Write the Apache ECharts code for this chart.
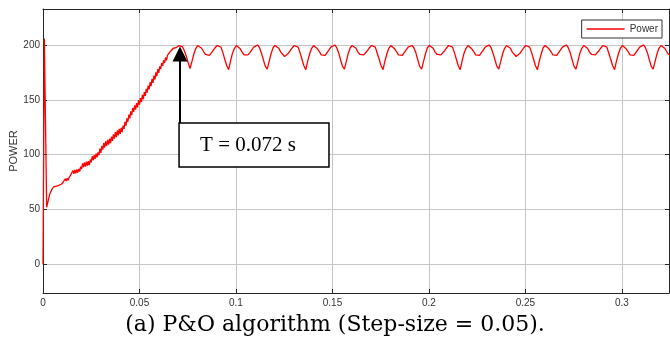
<!DOCTYPE html>
<html>
<head>
<meta charset="utf-8">
<script src="https://cdn.jsdelivr.net/npm/echarts@6/dist/echarts.min.js"></script>
<style>
  html, body { margin: 0; padding: 0; background: #fff; }
  #chart { width: 670px; height: 343px; }
</style>
</head>
<body>
<div id="chart"></div>
<script>
// Start-up transient: spike at switch-on, then the dip
const startTime  = [0, 0.0007, 0.0019, 0.0027, 0.0035, 0.0045, 0.0055, 0.0065, 0.0075, 0.0085];
const startPower = [0, 206, 52, 58, 64, 68, 70.5, 71, 71.5, 71.5];

// Tracking ramp, sampled every 0.5 ms from 9.5 ms (ripple included)
const rampT0 = 0.0095;
const rampDt = 0.0005;
const rampPower = [
  73, 71.5, 75, 75.5, 78, 76, 78.5, 76.5, 79, 78, 82, 82,
  85.5, 82.5, 86, 83, 86.5, 83.5, 87, 84.5, 89, 87,
  92, 88.5, 93, 89, 93.5, 90, 94, 90.5, 95.5, 93, 98.5, 95, 99.5, 96, 101, 97.5, 102, 99.5,
  105.5, 101.5, 108, 104.5, 110.5, 106.5, 112, 108, 113.5, 109, 114.5, 110.5, 116.5, 112.5,
  118.5, 114.5, 120.5, 116, 122, 117.5, 123.5, 119, 124.5, 120.5, 126.5, 123.5, 130, 126.5,
  133, 130, 136.5, 133, 139.5, 136, 142.5, 139, 145, 141, 147, 143, 149.5, 145.5, 151.5, 148,
  154.5, 150.5, 157, 153.5, 160, 156.5, 163, 159.5, 166, 162.5, 169, 165.5, 172, 168.5,
  175, 171.5, 178, 174.5, 180.5, 178, 183.5, 181, 186, 183.5, 188.5, 186, 190.5, 189,
  193, 191.5, 195, 194, 197, 195.5, 197.5, 197.5, 199, 199, 199.5
];

// Steady-state oscillation around the MPP, sampled every 1 ms from 71.2 ms
const steadyT0 = 0.0712;
const steadyDt = 0.001;
const steadyPower = [
  200, 198.5, 195, 190, 184, 178.5,
  185, 192, 197, 199.5, 199.5, 197, 194, 191.5, 190, 190.5, 192.5, 195, 197.5, 199.5, 200, 198, 193, 187, 181, 177.5,
  185.5, 192.5, 197, 199.5, 199, 196.5, 193.5, 191, 190.5, 191, 193, 195.5, 198, 199.5, 200, 197.5, 192.5, 186.5, 180.5, 178,
  185, 192, 197.5, 199.5, 199.5, 197, 193.5, 191.5, 189.5, 191, 192.5, 195, 197.5, 199.5, 199.5, 198, 193, 187, 181, 177.5,
  185.5, 192, 197, 199.5, 199, 196.5, 194, 191, 190, 190.5, 193, 195.5, 198, 199.5, 200, 197.5, 193, 186.5, 180.5, 178,
  185, 192.5, 197.5, 199.5, 199.5, 197, 193.5, 191.5, 190, 191, 192.5, 195, 197.5, 199.5, 200, 198, 192.5, 187, 181, 177.5,
  185.5, 192, 197, 199.5, 199, 196.5, 194, 191, 189.5, 190.5, 193, 195.5, 198, 199.5, 199.5, 197.5, 193, 186.5, 180.5, 178,
  185, 192, 197.5, 199.5, 199.5, 197, 193.5, 191.5, 190, 191, 192.5, 195, 197.5, 199.5, 200, 198, 193, 187, 181, 177.5,
  185.5, 192.5, 197, 199.5, 199, 196.5, 194, 191, 190.5, 190.5, 193, 195.5, 198, 199.5, 200, 197.5, 192.5, 186.5, 180.5, 178,
  185, 192, 197, 199.5, 199.5, 197, 193.5, 191.5, 189.5, 191, 192.5, 195, 197.5, 199.5, 199.5, 198, 193, 187, 181, 177.5,
  185.5, 192, 197.5, 199.5, 199, 196.5, 194, 191, 190, 190.5, 193, 195.5, 198, 199.5, 200, 197.5, 193, 186.5, 180.5, 178,
  185, 192.5, 197, 199.5, 199.5, 197, 193.5, 191.5, 190, 191, 192.5, 195, 197.5, 199.5, 200, 198, 192.5, 187, 181, 177.5,
  185.5, 192, 197, 199.5, 199, 196.5, 194, 191, 189.5, 190.5, 193, 195.5, 198, 199.5, 200, 197.5, 193, 186.5, 180.5, 178,
  185, 192, 197, 199.5, 199.5, 197, 194, 191.5, 190.5
];

const yTicks = [0, 50, 100, 150, 200];
const xRange = [0, 0.3244];
const yRange = [-26.2, 232.8];

// Tracking-time annotation
const trackTime = 0.071;
const trackLabel = 'T = 0.072 s';
const noteBox = [[0.0705, 128.8], [0.1482, 88.7]];
const arrowFrom = [trackTime, 128.8];
const arrowTo = [trackTime, 191.8];

const captionText = '(a) P&O algorithm (Step-size = 0.05).';

const series = [];
startTime.forEach((t, i) => series.push([t, startPower[i]]));
rampPower.forEach((p, i) => series.push([+(rampT0 + i * rampDt).toFixed(5), p]));
steadyPower.forEach((p, i) => series.push([+(steadyT0 + i * steadyDt).toFixed(5), p]));

const axisColor = '#262626';
const gridColor = '#c6c6c6';
const sans = 'Liberation Sans, Arial, sans-serif';

const chart = echarts.init(document.getElementById('chart'), null, { renderer: 'canvas' });
chart.setOption({
  animation: false,
  backgroundColor: '#ffffff',
  grid: { left: 43, right: 1, top: 9, bottom: 50, containLabel: false, outerBoundsMode: 'none' },
  title: {
    text: captionText,
    left: 'center',
    top: 314,
    padding: 0,
    textStyle: { fontFamily: 'DejaVu Serif', fontSize: 22, fontWeight: 'normal', color: '#000' }
  },
  legend: {
    data: ['Power'],
    right: 8,
    top: 20,
    padding: [3, 4, 3, 5],
    icon: 'rect',
    itemWidth: 38,
    itemHeight: 1.3,
    borderColor: '#333',
    borderWidth: 1,
    backgroundColor: '#fff',
    textStyle: { fontFamily: sans, fontSize: 10, color: '#333', lineHeight: 12 }
  },
  xAxis: [
    {
      type: 'value', min: xRange[0], max: xRange[1], interval: 0.05,
      axisLine: { show: true, onZero: false, lineStyle: { color: axisColor, width: 1 } },
      axisTick: { show: true, inside: true, length: 4, lineStyle: { color: axisColor } },
      axisLabel: { color: '#333', fontFamily: sans, fontSize: 10, margin: 5, showMaxLabel: false,
                   formatter: v => String(+v.toFixed(3)) },
      splitLine: { show: true, lineStyle: { color: gridColor, width: 1 } }
    },
    {
      type: 'value', position: 'top', min: xRange[0], max: xRange[1], interval: 0.05,
      axisLine: { show: true, onZero: false, lineStyle: { color: axisColor, width: 1 } },
      axisTick: { show: true, inside: true, length: 4, lineStyle: { color: axisColor } },
      axisLabel: { show: false },
      splitLine: { show: false }
    }
  ],
  yAxis: [
    {
      type: 'value', min: yRange[0], max: yRange[1],
      name: 'POWER', nameLocation: 'middle', nameGap: 24, nameMoveOverlap: false,
      nameTextStyle: { fontFamily: sans, fontSize: 11, color: '#333' },
      axisLine: { show: true, onZero: false, lineStyle: { color: axisColor, width: 1 } },
      axisTick: { show: true, inside: true, length: 4, customValues: yTicks, lineStyle: { color: axisColor } },
      axisLabel: { color: '#333', fontFamily: sans, fontSize: 10, margin: 3, customValues: yTicks },
      splitLine: { show: true, lineStyle: { color: gridColor, width: 1 } }
    },
    {
      type: 'value', position: 'right', min: yRange[0], max: yRange[1],
      axisLine: { show: true, onZero: false, lineStyle: { color: axisColor, width: 1 } },
      axisTick: { show: true, inside: true, length: 4, customValues: yTicks, lineStyle: { color: axisColor } },
      axisLabel: { show: false },
      splitLine: { show: false }
    }
  ],
  series: [
    {
      name: 'Power',
      type: 'line',
      xAxisIndex: 0,
      yAxisIndex: 0,
      data: series,
      symbol: 'none',
      smooth: false,
      clip: true,
      lineStyle: { color: '#ff0000', width: 1.3 },
      itemStyle: { color: '#ff0000' },
      markArea: {
        silent: true,
        itemStyle: { color: '#ffffff', borderColor: '#000', borderWidth: 1.5 },
        label: {
          show: true, position: 'inside', offset: [-6, 0],
          fontFamily: 'Liberation Serif', fontSize: 21, color: '#000'
        },
        data: [[
          { name: trackLabel, coord: noteBox[0] },
          { coord: noteBox[1] }
        ]]
      },
      markLine: {
        silent: true,
        symbol: ['none', 'triangle'],
        symbolSize: 15,
        label: { show: false },
        lineStyle: { color: '#000', width: 2, type: 'solid' },
        data: [[
          { coord: arrowFrom },
          { coord: arrowTo }
        ]]
      }
    }
  ]
});
</script>
</body>
</html>
